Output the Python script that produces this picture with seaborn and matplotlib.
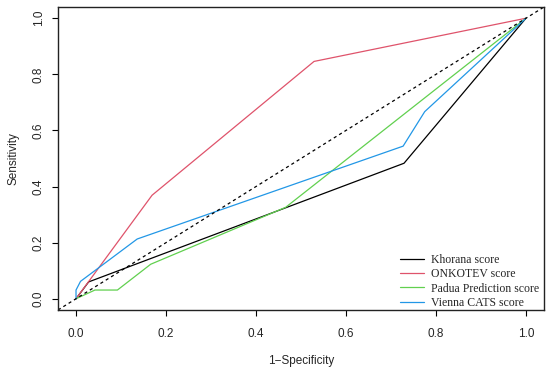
import pandas as pd
import matplotlib
matplotlib.use("Agg")
import matplotlib.pyplot as plt
import seaborn as sns

# ROC-Kurven (1-Spezifität, Sensitivität) je Score
khorana_fpr = [0.0, 0.028, 0.729, 1.0]
khorana_tpr = [0.0, 0.060, 0.483, 1.0]

onkotev_fpr = [0.0, 0.169, 0.529, 1.0]
onkotev_tpr = [0.0, 0.369, 0.846, 1.0]

padua_fpr = [0.0, 0.042, 0.092, 0.166, 0.466, 1.0]
padua_tpr = [0.0, 0.031, 0.031, 0.123, 0.326, 1.0]

vienna_fpr = [0.0, 0.0, 0.010, 0.136, 0.727, 0.775, 1.0]
vienna_tpr = [0.0, 0.031, 0.062, 0.213, 0.544, 0.667, 1.0]

labels = ["Khorana score", "ONKOTEV score", "Padua Prediction score", "Vienna CATS score"]
colors = ["black", "#DF536B", "#61D04F", "#2297E6"]

frames = []
for name, fpr, tpr in zip(labels,
                          [khorana_fpr, onkotev_fpr, padua_fpr, vienna_fpr],
                          [khorana_tpr, onkotev_tpr, padua_tpr, vienna_tpr]):
    frames.append(pd.DataFrame({"fpr": fpr, "tpr": tpr, "score": name}))
df = pd.concat(frames, ignore_index=True)

sns.set_style("white")
plt.rcParams["font.family"] = ["Liberation Sans", "DejaVu Sans"]

fig = plt.figure(figsize=(5.5, 3.69), dpi=100)
ax = fig.add_axes([0.1055, 0.160, 0.8835, 0.821])

sns.lineplot(data=df, x="fpr", y="tpr", hue="score", palette=colors, sort=False,
             estimator=None, units="score", linewidth=0.9, ax=ax)
ax.axline((0, 0), (1, 1), color="black", linestyle=(0, (2.5, 2.5)), linewidth=0.9)

ax.set_xlim(-0.04, 1.04)
ax.set_ylim(-0.04, 1.04)
ticks = [0.0, 0.2, 0.4, 0.6, 0.8, 1.0]
ax.set_xticks(ticks)
ax.set_yticks(ticks)
ax.set_xticklabels([f"{t:.1f}" for t in ticks])
ax.set_yticklabels([f"{t:.1f}" for t in ticks], rotation=90, va="center")
ax.tick_params(direction="out", length=4.5, width=0.8, color="black", labelsize=8.5,
               bottom=True, left=True)
ax.tick_params(axis="x", pad=8.5)
ax.tick_params(axis="y", pad=5)
for s in ax.spines.values():
    s.set_color("#222222")
    s.set_linewidth(1.0)
ax.set_xlabel("1\u2212Specificity", fontsize=8.5, labelpad=10.5)
ax.set_ylabel("Sensitivity", fontsize=8.5, labelpad=9.5)

leg = ax.legend(loc="lower right", bbox_to_anchor=(1.0, -0.012), frameon=False,
                handlelength=2.0, labelspacing=0.2, borderaxespad=0.0, handletextpad=0.6,
                prop={"family": "Liberation Serif", "size": 8.5})
for line in leg.get_lines():
    line.set_linewidth(0.9)

fig.savefig("out.png", dpi=100)
